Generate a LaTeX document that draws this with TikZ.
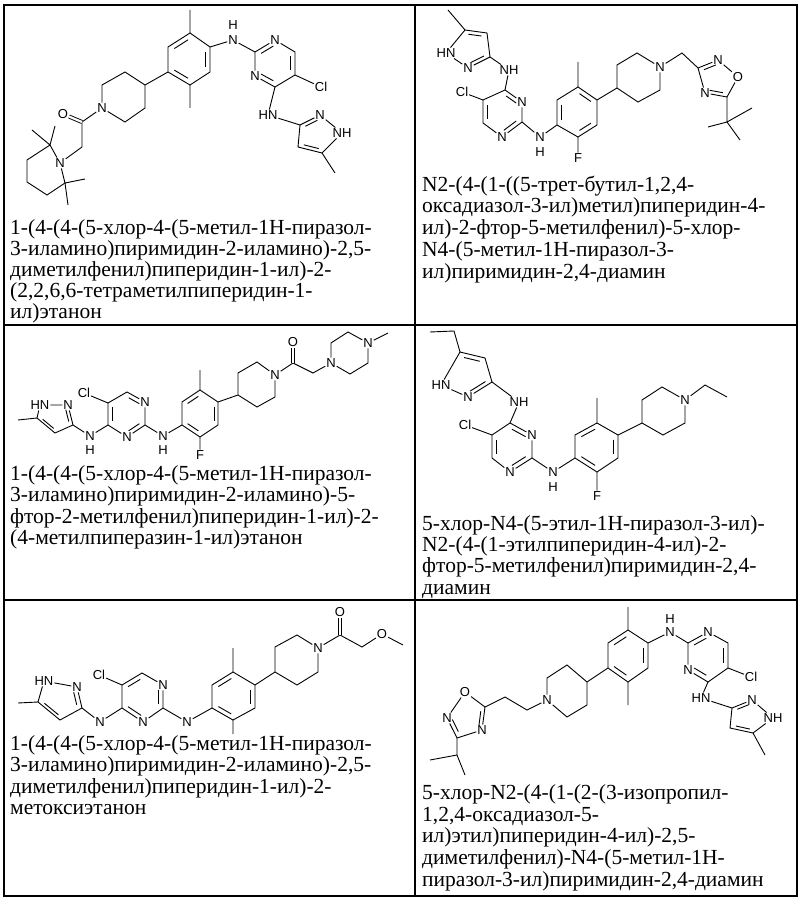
\documentclass[tikz,border=0pt]{standalone}
\usepackage{fontspec}
\setmainfont{Liberation Serif}
\newfontfamily\chem{Liberation Sans}
\usetikzlibrary{calc}
\newcommand\db[3]{\draw[bond,shorten <=2pt,shorten >=2pt] ($(#1)!0.22!(#3)$) -- ($(#2)!0.22!(#3)$);}
\begin{document}
\begin{tikzpicture}[x=1pt,y=-1pt,
 bond/.style={line width=0.9pt},
 atm/.style={font=\chem\fontsize{13}{13}\selectfont, inner sep=0.8pt},
 tx/.style={anchor=base west, inner sep=0pt, font=\fontsize{21.5}{22}\selectfont},
 grid/.style={line width=1.4pt}]
\useasboundingbox (0,0) rectangle (800,901);
% grid
\draw[grid] (4,5) rectangle (797,896);
\draw[grid] (415,5) -- (415,896);
\draw[grid] (4,325) -- (797,325);
\draw[grid] (4,600) -- (797,600);

%%%%%%%% Molecule A
\foreach \n/\p in {aP1/{190,33},aP2/{210,47},aP3/{210,72},aP4/{190,85},aP5/{168,72},aP6/{168,47},aPc/{189,59},
 aM1/{190,10},aM2/{190,108},aQ2/{255,52},aQ6/{295,52},aQ5/{295,75},aQ4/{275,87},aQc/{275,63},
 aZ3/{300,125},aZ5/{322,153},aZ4/{298,147},aZc/{316,135},aZm/{335,173},
 aR4/{145,85},aR3/{125,72},aR2/{102,85},aR6/{125,122},aR5/{145,108},aCO/{82,122},aCH2/{82,147},
 aT2/{50,145},aT3/{27,160},aT4/{27,182},aT5/{47,195},aT6/{65,183},aTa/{32,130},aTb/{55,126},aTc/{85,179},aTd/{68,205}}
 \coordinate (\n) at (\p);
\node[atm] (aN1) at (233,40) {N};
\node[atm] (aH1) at (233,25) {H};
\node[atm] (aQ1) at (275,40) {N};
\node[atm] (aQ3) at (255,76) {N};
\node[atm] (aCl) at (321,87) {Cl};
\node[atm] (aHN) at (268,115) {HN};
\node[atm] (aZ2) at (320,115) {N};
\node[atm] (aZ1) at (342,133) {NH};
\node[atm] (aRN) at (102,108) {N};
\node[atm] (aO) at (63,114) {O};
\node[atm] (aTN) at (60,163) {N};
\draw[bond] (aP1)--(aP2)--(aP3)--(aP4)--(aP5)--(aP6)--cycle;
\db{aP6}{aP1}{aPc}\db{aP2}{aP3}{aPc}\db{aP4}{aP5}{aPc}
\draw[bond] (aP1)--(aM1) (aP4)--(aM2) (aP2)--(aN1)--(aQ2);
\draw[bond] (aQ2)--(aQ1)--(aQ6)--(aQ5)--(aQ4)--(aQ3)--(aQ2);
\db{aQ2}{aQ1}{aQc}\db{aQ6}{aQ5}{aQc}\db{aQ4}{aQ3}{aQc}
\draw[bond] (aQ5)--(aCl) (aQ4)--(aHN)--(aZ3);
\draw[bond] (aZ3)--(aZ2)--(aZ1)--(aZ5)--(aZ4)--(aZ3) (aZ5)--(aZm);
\db{aZ3}{aZ2}{aZc}\db{aZ5}{aZ4}{aZc}
\draw[bond] (aP5)--(aR4)--(aR3)--(aR2)--(aRN)--(aR6)--(aR5)--(aR4);
\draw[bond] (aRN)--(aCO)--(aCH2)--(aTN);
\draw[bond,double distance=2.2pt] (aCO)--(aO);
\draw[bond] (aTN)--(aT2)--(aT3)--(aT4)--(aT5)--(aT6)--(aTN);
\draw[bond] (aT2)--(aTa) (aT2)--(aTb) (aT6)--(aTc) (aT6)--(aTd);

%%%%%%%% Molecule B
\foreach \n/\p in {bMe/{448,10},bZ5/{465,30},bZ4/{487,33},bZ3/{490,57},bZc/{471,48},
 bQ4/{505,90},bQ2/{522,122},bQ6/{483,123},bQ5/{483,100},bQc/{503,112},
 bP1/{557,125},bP2/{557,100},bP3/{578,87},bP4/{597,100},bP5/{597,125},bP6/{578,137},bPc/{577,112},bM/{578,62},
 bR4/{617,88},bR3/{617,65},bR2/{637,53},bR6/{660,90},bR5/{638,102},bCH2/{682,53},
 bX3/{698,68},bX5/{727,97},bXc/{717,79},bTq/{727,122},bTa/{708,127},bTb/{752,108},bTc/{740,140}}
 \coordinate (\n) at (\p);
\node[atm] (bZ2) at (468,68) {N};
\node[atm] (bZ1) at (446,53) {HN};
\node[atm] (bNH) at (509,70) {NH};
\node[atm] (bQ3) at (522,102) {N};
\node[atm] (bQ1) at (502,137) {N};
\node[atm] (bCl) at (462,92) {Cl};
\node[atm] (bN2) at (540,137) {N};
\node[atm] (bH2) at (540,152) {H};
\node[atm] (bF) at (578,158) {F};
\node[atm] (bRN) at (660,67) {N};
\node[atm] (bX2) at (718,60) {N};
\node[atm] (bX1) at (738,77) {O};
\node[atm] (bX4) at (705,93) {N};
\draw[bond] (bMe)--(bZ5)--(bZ4)--(bZ3)--(bZ2)--(bZ1)--(bZ5);
\db{bZ5}{bZ4}{bZc}\db{bZ3}{bZ2}{bZc}
\draw[bond] (bZ3)--(bNH)--(bQ4);
\draw[bond] (bQ4)--(bQ3)--(bQ2)--(bQ1)--(bQ6)--(bQ5)--(bQ4);
\db{bQ4}{bQ3}{bQc}\db{bQ2}{bQ1}{bQc}\db{bQ6}{bQ5}{bQc}
\draw[bond] (bQ5)--(bCl) (bQ2)--(bN2)--(bP1);
\draw[bond] (bP1)--(bP2)--(bP3)--(bP4)--(bP5)--(bP6)--(bP1);
\db{bP1}{bP2}{bPc}\db{bP3}{bP4}{bPc}\db{bP5}{bP6}{bPc}
\draw[bond] (bP3)--(bM) (bP6)--(bF) (bP4)--(bR4);
\draw[bond] (bR4)--(bR3)--(bR2)--(bRN)--(bR6)--(bR5)--(bR4);
\draw[bond] (bRN)--(bCH2)--(bX3);
\draw[bond] (bX3)--(bX2)--(bX1)--(bX5)--(bX4)--(bX3);
\db{bX3}{bX2}{bXc}\db{bX5}{bX4}{bXc}
\draw[bond] (bX5)--(bTq) (bTq)--(bTa) (bTq)--(bTb) (bTq)--(bTc);

%%%%%%%% Molecule C
\foreach \n/\p in {cMe/{18,420},cZ5/{37,418},cZ3/{73,425},cZ4/{55,433},cZc/{56,418},
 cQ4/{108,425},cQ2/{145,425},cQ6/{127,392},cQ5/{108,403},cQc/{127,414},
 cP1/{182,425},cP2/{182,402},cP3/{200,390},cP4/{218,402},cP5/{218,425},cP6/{200,437},cPc/{200,414},cM/{200,370},
 cR4/{238,395},cR3/{238,373},cR2/{257,362},cR6/{275,397},cR5/{257,407},
 cCO/{293,363},cCH2/{313,373},cA2/{331,343},cA3/{348,332},cA5/{368,363},cA6/{350,374},cAm/{388,333}}
 \coordinate (\n) at (\p);
\node[atm] (cZ1) at (40,405) {HN};
\node[atm] (cZ2) at (68,405) {N};
\node[atm] (cN1) at (90,436) {N};
\node[atm] (cH1) at (90,450) {H};
\node[atm] (cQ3) at (127,437) {N};
\node[atm] (cQ1) at (145,402) {N};
\node[atm] (cCl) at (84,393) {Cl};
\node[atm] (cN2) at (163,436) {N};
\node[atm] (cH2) at (163,450) {H};
\node[atm] (cF) at (200,455) {F};
\node[atm] (cRN) at (275,375) {N};
\node[atm] (cO) at (293,342) {O};
\node[atm] (cA1) at (331,363) {N};
\node[atm] (cA4) at (368,343) {N};
\draw[bond] (cMe)--(cZ5)--(cZ1)--(cZ2)--(cZ3)--(cZ4)--(cZ5);
\db{cZ2}{cZ3}{cZc}\db{cZ4}{cZ5}{cZc}
\draw[bond] (cZ3)--(cN1)--(cQ4);
\draw[bond] (cQ4)--(cQ3)--(cQ2)--(cQ1)--(cQ6)--(cQ5)--(cQ4);
\db{cQ3}{cQ2}{cQc}\db{cQ1}{cQ6}{cQc}\db{cQ5}{cQ4}{cQc}
\draw[bond] (cQ5)--(cCl) (cQ2)--(cN2)--(cP1);
\draw[bond] (cP1)--(cP2)--(cP3)--(cP4)--(cP5)--(cP6)--(cP1);
\db{cP2}{cP3}{cPc}\db{cP4}{cP5}{cPc}\db{cP6}{cP1}{cPc}
\draw[bond] (cP3)--(cM) (cP6)--(cF) (cP4)--(cR4);
\draw[bond] (cR4)--(cR3)--(cR2)--(cRN)--(cR6)--(cR5)--(cR4);
\draw[bond] (cRN)--(cCO)--(cCH2)--(cA1);
\draw[bond,double distance=2.2pt] (cCO)--(cO);
\draw[bond] (cA1)--(cA2)--(cA3)--(cA4)--(cA5)--(cA6)--(cA1) (cA4)--(cAm);

%%%%%%%% Molecule D
\foreach \n/\p in {dE1/{430,332},dE2/{454,331},dZ5/{460,352},dZ4/{485,358},dZ3/{492,382},dZc/{470,375},
 dQ4/{510,423},dQ2/{532,458},dQ6/{492,458},dQ5/{492,435},dQc/{511,447},
 dP1/{575,458},dP2/{575,435},dP3/{597,423},dP4/{618,435},dP5/{618,458},dP6/{597,472},dPc/{596,447},dM/{597,398},
 dR4/{642,423},dR3/{642,400},dR2/{662,387},dR6/{685,423},dR5/{663,435},dE3/{705,385},dE4/{727,397}}
 \coordinate (\n) at (\p);
\node[atm] (dZ2) at (468,397) {N};
\node[atm] (dZ1) at (441,385) {HN};
\node[atm] (dNH) at (519,402) {NH};
\node[atm] (dQ3) at (532,435) {N};
\node[atm] (dQ1) at (510,472) {N};
\node[atm] (dCl) at (465,425) {Cl};
\node[atm] (dN2) at (553,472) {N};
\node[atm] (dH2) at (553,487) {H};
\node[atm] (dF) at (597,496) {F};
\node[atm] (dRN) at (685,400) {N};
\draw[bond] (dE1)--(dE2)--(dZ5)--(dZ4)--(dZ3)--(dZ2)--(dZ1)--(dZ5);
\db{dZ5}{dZ4}{dZc}\db{dZ3}{dZ2}{dZc}
\draw[bond] (dZ3)--(dNH)--(dQ4);
\draw[bond] (dQ4)--(dQ3)--(dQ2)--(dQ1)--(dQ6)--(dQ5)--(dQ4);
\db{dQ4}{dQ3}{dQc}\db{dQ2}{dQ1}{dQc}\db{dQ6}{dQ5}{dQc}
\draw[bond] (dQ5)--(dCl) (dQ2)--(dN2)--(dP1);
\draw[bond] (dP1)--(dP2)--(dP3)--(dP4)--(dP5)--(dP6)--(dP1);
\db{dP2}{dP3}{dPc}\db{dP4}{dP5}{dPc}\db{dP6}{dP1}{dPc}
\draw[bond] (dP3)--(dM) (dP6)--(dF) (dP4)--(dR4);
\draw[bond] (dR4)--(dR3)--(dR2)--(dRN)--(dR6)--(dR5)--(dR4);
\draw[bond] (dRN)--(dE3)--(dE4);

%%%%%%%% Molecule E
\foreach \n/\p in {eMe/{18,703},eZ5/{38,702},eZ3/{82,708},eZ4/{60,720},eZc/{60,702},
 eQ4/{122,708},eQ5/{122,685},eQ6/{142,673},eQ2/{163,708},eQc/{142,697},
 eP1/{212,708},eP2/{212,685},eP3/{233,672},eP4/{255,685},eP5/{255,708},eP6/{233,720},ePc/{233,697},eM1/{233,648},eM2/{233,734},
 eR4/{275,672},eR3/{275,647},eR2/{297,635},eR6/{318,672},eR5/{297,685},
 eCO/{340,635},eCH2/{362,647},eMe2/{403,645}}
 \coordinate (\n) at (\p);
\node[atm] (eZ1) at (44,681) {HN};
\node[atm] (eZ2) at (77,687) {N};
\node[atm] (eN1) at (100,722) {N};
\node[atm] (eQ1) at (163,685) {N};
\node[atm] (eQ3) at (143,722) {N};
\node[atm] (eCl) at (99,675) {Cl};
\node[atm] (eN2) at (187,722) {N};
\node[atm] (eRN) at (318,648) {N};
\node[atm] (eO) at (340,612) {O};
\node[atm] (eOm) at (382,634) {O};
\draw[bond] (eMe)--(eZ5)--(eZ1)--(eZ2)--(eZ3)--(eZ4)--(eZ5);
\db{eZ2}{eZ3}{eZc}\db{eZ4}{eZ5}{eZc}
\draw[bond] (eZ3)--(eN1)--(eQ4);
\draw[bond] (eQ4)--(eQ5)--(eQ6)--(eQ1)--(eQ2)--(eQ3)--(eQ4);
\db{eQ4}{eQ3}{eQc}\db{eQ1}{eQ2}{eQc}\db{eQ5}{eQ6}{eQc}
\draw[bond] (eQ5)--(eCl) (eQ2)--(eN2)--(eP1);
\draw[bond] (eP1)--(eP2)--(eP3)--(eP4)--(eP5)--(eP6)--(eP1);
\db{eP2}{eP3}{ePc}\db{eP4}{eP5}{ePc}\db{eP6}{eP1}{ePc}
\draw[bond] (eP3)--(eM1) (eP6)--(eM2) (eP4)--(eR4);
\draw[bond] (eR4)--(eR3)--(eR2)--(eRN)--(eR6)--(eR5)--(eR4);
\draw[bond] (eRN)--(eCO)--(eCH2)--(eOm)--(eMe2);
\draw[bond,double distance=2.2pt] (eCO)--(eO);

%%%%%%%% Molecule F
\foreach \n/\p in {fP1/{628,630},fP2/{648,643},fP3/{648,668},fP4/{628,682},fP5/{608,668},fP6/{608,643},fPc/{628,656},fM1/{628,607},fM2/{628,705},
 fQ2/{688,643},fQ6/{728,643},fQ5/{728,668},fQ4/{708,682},fQc/{708,656},
 fZ3/{732,708},fZ5/{753,733},fZ4/{730,728},fZc/{748,717},fZm/{765,755},
 fR4/{587,682},fR5/{587,705},fR6/{567,717},fR2/{547,678},fR3/{567,665},
 fC1/{527,710},fC2/{505,697},fX5/{485,707},fX3/{457,738},fXc/{467,717},fI/{457,755},fIa/{430,760},fIb/{465,775}}
 \coordinate (\n) at (\p);
\node[atm] (fN1) at (670,632) {N};
\node[atm] (fH1) at (670,619) {H};
\node[atm] (fQ1) at (708,632) {N};
\node[atm] (fQ3) at (688,670) {N};
\node[atm] (fCl) at (751,677) {Cl};
\node[atm] (fHN) at (701,698) {HN};
\node[atm] (fZ2) at (752,700) {N};
\node[atm] (fZ1) at (773,718) {NH};
\node[atm] (fRN) at (547,700) {N};
\node[atm] (fX1) at (465,692) {O};
\node[atm] (fX2) at (447,718) {N};
\node[atm] (fX4) at (482,730) {N};
\draw[bond] (fP1)--(fP2)--(fP3)--(fP4)--(fP5)--(fP6)--(fP1);
\db{fP6}{fP1}{fPc}\db{fP2}{fP3}{fPc}\db{fP4}{fP5}{fPc}
\draw[bond] (fP1)--(fM1) (fP4)--(fM2) (fP2)--(fN1)--(fQ2);
\draw[bond] (fQ2)--(fQ1)--(fQ6)--(fQ5)--(fQ4)--(fQ3)--(fQ2);
\db{fQ2}{fQ1}{fQc}\db{fQ6}{fQ5}{fQc}\db{fQ4}{fQ3}{fQc}
\draw[bond] (fQ5)--(fCl) (fQ4)--(fHN)--(fZ3);
\draw[bond] (fZ3)--(fZ2)--(fZ1)--(fZ5)--(fZ4)--(fZ3) (fZ5)--(fZm);
\db{fZ3}{fZ2}{fZc}\db{fZ5}{fZ4}{fZc}
\draw[bond] (fP5)--(fR4)--(fR5)--(fR6)--(fRN)--(fR2)--(fR3)--(fR4);
\draw[bond] (fRN)--(fC1)--(fC2)--(fX5);
\draw[bond] (fX5)--(fX1)--(fX2)--(fX3)--(fX4)--(fX5);
\db{fX5}{fX4}{fXc}\db{fX2}{fX3}{fXc}
\draw[bond] (fX3)--(fI)--(fIa) (fI)--(fIb);

%%%%%%%% Texts
\node[tx] (t11) at (10,234) {1-(4-(4-(5-хлор-4-(5-метил-1H-пиразол-};
\node[tx] (t12) at (10,255) {3-иламино)пиримидин-2-иламино)-2,5-};
\node[tx] (t13) at (10,276) {диметилфенил)пиперидин-1-ил)-2-};
\node[tx] (t14) at (10,297) {(2,2,6,6-тетраметилпиперидин-1-};
\node[tx] (t15) at (10,318) {ил)этанон};
\node[tx] (t21) at (422,192) {N2-(4-(1-((5-трет-бутил-1,2,4-};
\node[tx] (t22) at (422,213) {оксадиазол-3-ил)метил)пиперидин-4-};
\node[tx] (t23) at (422,235) {ил)-2-фтор-5-метилфенил)-5-хлор-};
\node[tx] (t24) at (422,256) {N4-(5-метил-1H-пиразол-3-};
\node[tx] (t25) at (422,278) {ил)пиримидин-2,4-диамин};
\node[tx] (t31) at (10,480) {1-(4-(4-(5-хлор-4-(5-метил-1H-пиразол-};
\node[tx] (t32) at (10,501) {3-иламино)пиримидин-2-иламино)-5-};
\node[tx] (t33) at (10,523) {фтор-2-метилфенил)пиперидин-1-ил)-2-};
\node[tx] (t34) at (10,544) {(4-метилпиперазин-1-ил)этанон};
\node[tx] (t41) at (422,530) {5-хлор-N4-(5-этил-1H-пиразол-3-ил)-};
\node[tx] (t42) at (422,551) {N2-(4-(1-этилпиперидин-4-ил)-2-};
\node[tx] (t43) at (422,572) {фтор-5-метилфенил)пиримидин-2,4-};
\node[tx] (t44) at (422,594) {диамин};
\node[tx] (t51) at (10,750) {1-(4-(4-(5-хлор-4-(5-метил-1H-пиразол-};
\node[tx] (t52) at (10,771) {3-иламино)пиримидин-2-иламино)-2,5-};
\node[tx] (t53) at (10,793) {диметилфенил)пиперидин-1-ил)-2-};
\node[tx] (t54) at (10,814) {метоксиэтанон};
\node[tx] (t61) at (422,799) {5-хлор-N2-(4-(1-(2-(3-изопропил-};
\node[tx] (t62) at (422,821) {1,2,4-оксадиазол-5-};
\node[tx] (t63) at (422,842) {ил)этил)пиперидин-4-ил)-2,5-};
\node[tx] (t64) at (422,864) {диметилфенил)-N4-(5-метил-1H-};
\node[tx] (t65) at (422,886) {пиразол-3-ил)пиримидин-2,4-диамин};
\end{tikzpicture}
\end{document}
